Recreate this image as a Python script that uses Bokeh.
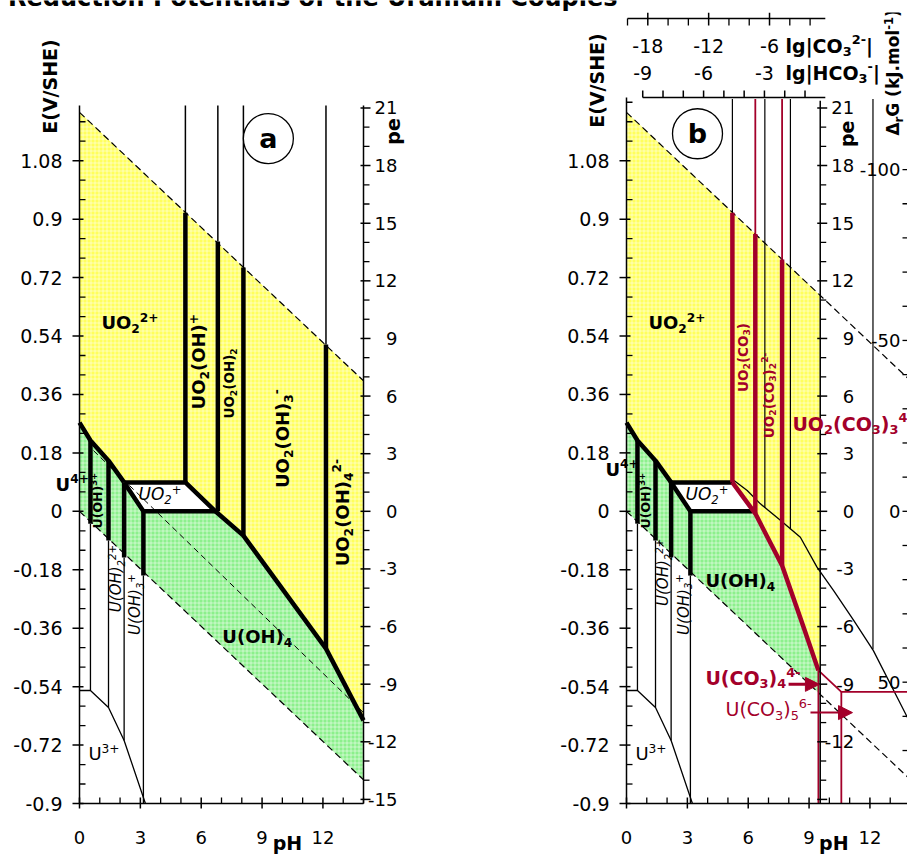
import math
from bokeh.plotting import figure
from bokeh.models import Range1d, Label, Arrow, NormalHead
from bokeh.layouts import column, row
from bokeh.embed import file_html
from bokeh.resources import INLINE
from bokeh.core.properties import value

# ---------------- values ----------------
TITLE = "Reduction Potentials of the Uranium Couples"

PH_MAJOR = [0, 3, 6, 9, 12]
PH_MINOR = [1, 2, 4, 5, 7, 8, 10, 11, 13, 14]
E_MAJOR = [-0.9, -0.72, -0.54, -0.36, -0.18, 0, 0.18, 0.36, 0.54, 0.72, 0.9, 1.08]
E_MAJOR_LABELS = ["-0.9", "-0.72", "-0.54", "-0.36", "-0.18", "0", "0.18", "0.36",
                  "0.54", "0.72", "0.9", "1.08"]
E_MINOR = [-0.84, -0.78, -0.66, -0.6, -0.48, -0.42, -0.3, -0.24, -0.12, -0.06, 0.06, 0.12,
           0.24, 0.3, 0.42, 0.48, 0.6, 0.66, 0.78, 0.84, 0.96, 1.02, 1.14, 1.2, 1.26]
PE_MAJOR = [-15, -12, -9, -6, -3, 0, 3, 6, 9, 12, 15, 18, 21]
PE_MINOR = [-14, -13, -11, -10, -8, -7, -5, -4, -2, -1, 1, 2, 4, 5, 7, 8, 10, 11, 13, 14,
            16, 17, 19, 20]
DG_MAJOR = [-100, -50, 0, 50]
DG_MINOR = [-90, -80, -70, -60, -40, -30, -20, -10, 10, 20, 30, 40, 60, 70]
HCO3_MAJOR = [-9, -6, -3]
HCO3_MINOR = [-8, -7, -5, -4, -2, -1]
CO3_MAJOR = [-18, -12, -6]
CO3_MINOR = [-20, -16, -14, -10, -8, -4, -2]

# water stability lines
PH_WATER = [0.0, 14.0]
E_WATER_O2 = [1.229, 0.402]
E_WATER_H2 = [0.0, -0.827]
PH_REF_A = [0.69, 14.0]
E_REF_A = [0.187, -0.620]

# U(VI)/U(IV) boundary in acid, U(IV) hydrolysis, U(III)
PH_U4_BOUND = [0.0, 0.54, 1.43, 2.2]
E_U4_BOUND = [0.273, 0.218, 0.156, 0.089]
PH_UIV_HYD = [0.54, 1.43, 2.2, 3.15]
E_UIV_HYD_TOP = [0.218, 0.156, 0.089, 0.0]
E_UIV_HYD_WATER = [-0.038, -0.090, -0.142, -0.198]
E_UIV_HYD_LOW = [-0.552, -0.604, -0.706, -0.9]
PH_U3_BOUND = [0.0, 0.54, 1.43, 2.2, 3.25]
E_U3_BOUND = [-0.552, -0.552, -0.604, -0.706, -0.9]

# UO2+ domain (top-left, top-right, bottom-right, bottom-left)
PH_BOX = [2.2, 5.22, 6.7, 3.15]
E_BOX = [0.089, 0.089, 0.0, 0.0]
PH_BOX_B_END = 6.2

# U(VI) hydrolysis boundaries
PH_UVI_HYD = [5.22, 6.82, 8.08, 12.15]
E_UVI_HYD_TOP = [0.920, 0.831, 0.751, 0.514]
E_UVI_HYD_LOW_A = [0.089, 0.0, -0.075, -0.423]
E_UVI_HYD_LOW_B = [0.920, 0.012, -0.055, -0.425]
PH_UIV_UVI_A = [6.7, 8.08, 12.15, 14.0]
E_UIV_UVI_A = [0.0, -0.075, -0.423, -0.644]
PH_CURVE_B = [5.3, 5.95, 6.6, 7.6, 8.57, 9.39, 10.21, 11.2, 12.17, 13.85]
E_CURVE_B = [0.095, 0.064, 0.023, -0.028, -0.080, -0.172, -0.244, -0.336, -0.429, -0.635]

# carbonate boundaries (panel b)
PH_CARB = [5.22, 6.35, 7.67]
E_CARB_TOP = [0.920, 0.854, 0.776]
E_CARB_LOW = [0.089, -0.007, -0.167]
PH_CARB_BOUND = [5.22, 6.35, 7.67, 8.73, 9.46]
E_CARB_BOUND = [0.089, -0.007, -0.167, -0.357, -0.49]
PH_UC_LINE = [9.46, 10.59, 13.85]
E_UC_LINE = [-0.49, -0.556, -0.556]
PH_UC_VERT = [9.46, 10.59]
E_UC_VERT_TOP = [-0.49, -0.556]
PH_LIMIT_B = 9.55
E_LIMIT_O2_B = 0.665
E_LIMIT_H2_B = -0.564

E_TOP_A = 1.25
E_TOP_B = 1.27

# ---------------- style ----------------
FONT = "DejaVu Sans"
RED = "#a3002a"
YELLOW = "#ffff5c"
GREEN = "#8cf08c"
PPX = 20.286    # px per pH unit
PPV = 324.65    # px per volt
PE_K = 0.05916
DG_K = 95.0
THICK = 4.5
THIN = 1.3
Y_TOP = -0.9 + 791 / PPV
Y_BOT = -0.9 - 52 / PPV

W_REG = {' ': 318, '(': 390, ')': 390, '+': 838, '-': 361, '.': 318, '/': 337, 'C': 698,
         'E': 632, 'G': 775, 'H': 752, 'J': 295, 'O': 787, 'S': 635, 'U': 732, 'V': 684,
         'a': 613, 'b': 635, 'e': 615, 'g': 635, 'h': 634, 'k': 579, 'l': 278, 'm': 974,
         'o': 612, 'p': 635, 'r': 411, '|': 337, 'Δ': 684}
W_BOLD = {' ': 348, '(': 457, ')': 457, '+': 838, '-': 415, '.': 380, '/': 365, 'C': 733,
          'E': 683, 'G': 822, 'H': 837, 'J': 372, 'O': 850, 'S': 720, 'U': 812, 'V': 774,
          'a': 675, 'b': 716, 'e': 678, 'g': 716, 'h': 712, 'k': 665, 'l': 343, 'm': 1042,
          'o': 687, 'p': 716, 'r': 493, '|': 365, 'Δ': 774}


def parse(markup):
    segs, buf, i = [], "", 0
    while i < len(markup):
        c = markup[i]
        if c in "_^" and i + 1 < len(markup) and markup[i + 1] == "{":
            if buf:
                segs.append((buf, "n"))
                buf = ""
            j = markup.index("}", i)
            segs.append((markup[i + 2:j], "sub" if c == "_" else "sup"))
            i = j + 1
        else:
            buf += c
            i += 1
    if buf:
        segs.append((buf, "n"))
    return segs


def tw(txt, bold):
    tab = W_BOLD if bold else W_REG
    return sum(tab.get(ch, 696 if bold else 636) for ch in txt) / 1000.0


def rich(p, x, y, markup, size, bold=True, italic=False, color="black", angle=0.0,
         align="center", vshift=0.0):
    """Text with sub/superscripts; (x, y) is the visual centre of the main text."""
    style = (("bold " if bold else "") + ("italic" if italic else "")).strip() or "normal"
    items, u = [], 0.0
    for txt, kind in parse(markup):
        s = size if kind == "n" else size * 0.68
        v = {"n": 0.0, "sub": -0.315 * size, "sup": 0.305 * size}[kind]
        items.append((txt, u, v, s))
        u += tw(txt, bold) * s
    u0 = {"left": 0.0, "center": -u / 2.0, "right": -u}[align]
    ca, sa = math.cos(angle), math.sin(angle)
    for txt, uu, vv, s in items:
        a = u0 + uu
        b = vv + vshift * size
        p.add_layout(Label(x=x, y=y, x_offset=a * ca - b * sa, y_offset=a * sa + b * ca,
                           text=txt, angle=angle, text_font=FONT,
                           text_font_size=f"{s:.1f}px", text_font_style=style,
                           text_color=color, text_align="left",
                           text_baseline="middle"))


def plain(p, x, y, txt, size=18, align="center", baseline="middle", bold=False):
    p.add_layout(Label(x=x, y=y, text=txt, text_font=FONT, text_font_size=f"{size}px",
                       text_font_style="bold" if bold else "normal", text_color="black",
                       text_align=align, text_baseline=baseline))


def make_fig(width, x_start, x_end):
    p = figure(width=width, height=843, x_range=Range1d(x_start, x_end),
               y_range=Range1d(Y_BOT, Y_TOP), output_backend="svg", toolbar_location=None,
               x_axis_type=None, y_axis_type=None, min_border=0,
               background_fill_color="white", border_fill_color="white",
               outline_line_color=None)
    p.xgrid.visible = False
    p.ygrid.visible = False
    return p


def seg(p, x0, y0, x1, y1, color="black", width=1.5):
    p.segment(x0=x0, y0=y0, x1=x1, y1=y1, line_color=color, line_width=width)


def e_axis(p, e_top):
    seg(p, [0], [-0.9], [0], [e_top])
    n = len(E_MAJOR)
    seg(p, [-7 / PPX] * n, E_MAJOR, [4 / PPX] * n, E_MAJOR)
    mn = [v for v in E_MINOR if v <= e_top]
    seg(p, [0] * len(mn), mn, [6 / PPX] * len(mn), mn, width=1.3)
    for v, lab in zip(E_MAJOR, E_MAJOR_LABELS):
        plain(p, -17 / PPX, v, lab, size=19, align="right")


def ph_axis(p, ph_end):
    seg(p, [0], [-0.9], [ph_end], [-0.9])
    n = len(PH_MAJOR)
    seg(p, PH_MAJOR, [-0.9 - 5 / PPV] * n, PH_MAJOR, [-0.9 + 6 / PPV] * n)
    mn = [v for v in PH_MINOR if v <= ph_end]
    seg(p, mn, [-0.9] * len(mn), mn, [-0.9 + 6 / PPV] * len(mn), width=1.3)
    for v in PH_MAJOR:
        plain(p, v, -0.9 - 34 / PPV, str(v), size=18)


def pe_axis(p, ph0, e_top, skip=()):
    seg(p, [ph0], [-0.9], [ph0], [e_top])
    ym = [v * PE_K for v in PE_MAJOR]
    seg(p, [ph0 - 3 / PPX] * len(ym), ym, [ph0 + 7 / PPX] * len(ym), ym)
    yn = [v * PE_K for v in PE_MINOR]
    seg(p, [ph0] * len(yn), yn, [ph0 + 6 / PPX] * len(yn), yn, width=1.3)
    for v in PE_MAJOR:
        if v in skip:
            continue
        plain(p, ph0 + 34 / PPX, v * PE_K, str(v), size=18, align="right")


def draw_uiv_side(p):
    seg(p, PH_UIV_HYD, E_UIV_HYD_WATER, PH_UIV_HYD, E_UIV_HYD_LOW, width=THIN)
    p.line(PH_U3_BOUND, E_U3_BOUND, line_color="black", line_width=THIN)
    seg(p, PH_UIV_HYD, E_UIV_HYD_TOP, PH_UIV_HYD, E_UIV_HYD_WATER, width=THICK)
    p.line(PH_U4_BOUND, E_U4_BOUND, line_color="black", line_width=THICK, line_join="round")


def water(p):
    p.line(PH_WATER, E_WATER_O2, line_color="black", line_width=1.2, line_dash="7 4")
    p.line(PH_WATER, E_WATER_H2, line_color="black", line_width=1.2, line_dash="7 4")


fill_kw = dict(line_color=None, hatch_pattern="+", hatch_color="white", hatch_alpha=0.5,
               hatch_scale=4, hatch_weight=1)

# ---------------- title strip ----------------
t = figure(width=907, height=12, x_range=Range1d(0, 907), y_range=Range1d(0, 12),
           x_axis_type=None, y_axis_type=None, min_border=0, toolbar_location=None,
           output_backend="svg", outline_line_color=None, background_fill_color="white",
           border_fill_color="white")
t.grid.visible = False
t.text(x=[617], y=[15], text=[TITLE], text_align="right", text_baseline="alphabetic",
       text_font=value(FONT), text_font_size="24px", text_font_style="bold",
       text_color="black")

# ---------------- panel a ----------------
pa = make_fig(453, -79 / PPX, 374 / PPX)

ya_x = PH_WATER + PH_UIV_UVI_A[::-1] + [PH_BOX[1]] + PH_U4_BOUND[::-1]
ya_y = E_WATER_O2 + E_UIV_UVI_A[::-1] + [E_BOX[1]] + E_U4_BOUND[::-1]
pa.patch(ya_x, ya_y, fill_color=YELLOW, **fill_kw)
ga_x = PH_U4_BOUND + [PH_BOX[3]] + PH_UIV_UVI_A + PH_WATER[::-1]
ga_y = E_U4_BOUND + [E_BOX[3]] + E_UIV_UVI_A + E_WATER_H2[::-1]
pa.patch(ga_x, ga_y, fill_color=GREEN, **fill_kw)

water(pa)
pa.line(PH_REF_A, E_REF_A, line_color="black", line_width=1.0, line_dash="6 4")
seg(pa, PH_UVI_HYD, [E_TOP_A] * 4, PH_UVI_HYD, E_UVI_HYD_TOP)
draw_uiv_side(pa)
seg(pa, PH_UVI_HYD, E_UVI_HYD_TOP, PH_UVI_HYD, E_UVI_HYD_LOW_A, width=THICK)
pa.line(PH_BOX + [PH_BOX[0]], E_BOX + [E_BOX[0]], line_color="black", line_width=THICK,
        line_join="round")
pa.line(PH_UIV_UVI_A, E_UIV_UVI_A, line_color="black", line_width=THICK, line_join="round")
e_axis(pa, E_TOP_A)
ph_axis(pa, 14.0)
pe_axis(pa, 14.0, E_TOP_A)

pa.scatter([9.31], [1.148], size=50, marker="circle", fill_color="white",
           line_color="black", line_width=1.3)
plain(pa, 9.31, 1.148, "a", size=27, bold=True)

labels_a = [
    ("UO_{2}^{2+}", 1.08, 0.581, 18, True, False, 0, "left"),
    ("UO_{2}(OH)^{+}", 5.89, 0.461, 18, True, False, 90, "center"),
    ("UO_{2}(OH)_{2}", 7.39, 0.394, 13.5, True, False, 90, "center"),
    ("UO_{2}(OH)_{3}^{-}", 10.0, 0.224, 18, True, False, 90, "center"),
    ("UO_{2}(OH)_{4}^{2-}", 12.96, -0.004, 18, True, False, 90, "center"),
    ("U(OH)_{4}", 7.04, -0.386, 18, True, False, 0, "left"),
    ("U^{4+}", -1.18, 0.083, 18, True, False, 0, "left"),
    ("UO_{2}^{+}", 2.91, 0.052, 17, False, True, 0, "left"),
    ("U(OH)^{3+}", 0.89, 0.033, 12.5, True, False, 90, "center"),
    ("U(OH)_{2}^{2+}", 1.82, -0.207, 15, False, True, 90, "center"),
    ("U(OH)_{3}^{+}", 2.76, -0.287, 15, False, True, 90, "center"),
    ("U^{3+}", 0.44, -0.746, 18, False, False, 0, "left"),
    ("E(V/SHE)", -1.43, 1.3085, 19, True, False, 90, "center"),
    ("pH", 10.25, -0.9 - 39 / PPV, 19, True, False, 0, "center"),
]
for m, x, y, s, b, it, ang, al in labels_a:
    rich(pa, x, y, m, s, bold=b, italic=it, angle=math.radians(ang), align=al)
rich(pa, 15.53, 1.170, "pe", 19, bold=True, angle=math.pi / 2, align="center", vshift=0.073)

# ---------------- panel b ----------------
XB_END = 281 / PPX
pb = make_fig(454, -173 / PPX, XB_END)

yb_x = [PH_WATER[0], PH_LIMIT_B, PH_LIMIT_B] + PH_CARB_BOUND[::-1] + PH_U4_BOUND[::-1]
yb_y = [E_WATER_O2[0], E_LIMIT_O2_B, E_CARB_BOUND[-1]] + E_CARB_BOUND[::-1] + E_U4_BOUND[::-1]
pb.patch(yb_x, yb_y, fill_color=YELLOW, **fill_kw)
gb_x = PH_U4_BOUND + [PH_BOX[3], PH_BOX_B_END] + PH_CARB_BOUND[1:] + \
    [PH_LIMIT_B, PH_LIMIT_B, PH_WATER[0]]
gb_y = E_U4_BOUND + [E_BOX[3], E_BOX[3]] + E_CARB_BOUND[1:] + \
    [E_CARB_BOUND[-1], E_LIMIT_H2_B, E_WATER_H2[0]]
pb.patch(gb_x, gb_y, fill_color=GREEN, **fill_kw)

water(pb)
seg(pb, PH_UVI_HYD, [E_TOP_B] * 4, PH_UVI_HYD, E_UVI_HYD_LOW_B, width=1.2)
pb.line(PH_CURVE_B, E_CURVE_B, line_color="black", line_width=1.3)
draw_uiv_side(pb)
pb.line([PH_BOX[1], PH_BOX[0], PH_BOX[3], PH_BOX_B_END], [E_BOX[1], E_BOX[0], E_BOX[3], E_BOX[3]],
        line_color="black", line_width=THICK, line_join="round")
seg(pb, PH_CARB[1:], [E_TOP_B] * 2, PH_CARB[1:], E_CARB_TOP[1:], color=RED, width=1.8)
seg(pb, PH_CARB, E_CARB_TOP, PH_CARB, E_CARB_LOW, color=RED, width=THICK)
pb.line(PH_CARB_BOUND, E_CARB_BOUND, line_color=RED, line_width=THICK, line_join="round")
pb.line(PH_UC_LINE, E_UC_LINE, line_color=RED, line_width=1.8)
seg(pb, PH_UC_VERT, E_UC_VERT_TOP, PH_UC_VERT, [-0.9, -0.9], color=RED, width=1.8)

e_axis(pb, 1.2747)
ph_axis(pb, XB_END)
pe_axis(pb, PH_LIMIT_B, 1.265, skip=(-15,))

# delta_r G axis (right edge)
ydg = [-v / DG_K for v in DG_MAJOR + DG_MINOR]
seg(pb, [XB_END - 5 / PPX] * len(ydg), ydg, [XB_END] * len(ydg), ydg, width=1.3)
for v in DG_MAJOR:
    plain(pb, XB_END - 7 / PPX, -v / DG_K, str(v), size=18, align="right")

# carbonate concentration axes (top)
E_HCO3_AX = 1.2747
E_CO3_AX = 1.518
HCO3_OFF = 9.8
CO3_OFF = 20.1
seg(pb, [-9 + HCO3_OFF], [E_HCO3_AX], [0 + HCO3_OFF], [E_HCO3_AX])
hx = [v + HCO3_OFF for v in HCO3_MAJOR + HCO3_MINOR]
seg(pb, hx, [E_HCO3_AX] * len(hx), hx, [E_HCO3_AX + 7 / PPV] * len(hx))
for v in HCO3_MAJOR:
    plain(pb, v + HCO3_OFF, 1.3516, str(v), size=19)
seg(pb, [(-20 + CO3_OFF) / 2], [E_CO3_AX], [(-0.5 + CO3_OFF) / 2], [E_CO3_AX])
cxm = [(v + CO3_OFF) / 2 for v in CO3_MAJOR]
seg(pb, cxm, [E_CO3_AX - 7 / PPV] * 3, cxm, [E_CO3_AX + 6 / PPV] * 3)
cxn = [(v + CO3_OFF) / 2 for v in CO3_MINOR]
seg(pb, cxn, [E_CO3_AX - 7 / PPV] * len(cxn), cxn, [E_CO3_AX] * len(cxn), width=1.3)
for v in CO3_MAJOR:
    plain(pb, (v + CO3_OFF) / 2, 1.4348, str(v), size=19)

pb.scatter([3.5], [1.163], size=50, marker="circle", fill_color="white", line_color="black",
           line_width=1.3)
plain(pb, 3.5, 1.163, "b", size=27, bold=True)

pb.add_layout(Arrow(end=NormalHead(size=14, fill_color=RED, line_color=RED),
                    x_start=7.99, y_start=-0.533, x_end=9.51, y_end=-0.533,
                    line_color=RED, line_width=3))
pb.add_layout(Arrow(end=NormalHead(size=14, fill_color=RED, line_color=RED),
                    x_start=9.07, y_start=-0.620, x_end=11.14, y_end=-0.620,
                    line_color=RED, line_width=2))

labels_b = [
    ("UO_{2}^{2+}", 1.08, 0.581, 18, True, False, "black", 0, "left"),
    ("U^{4+}", -1.04, 0.129, 18, True, False, "black", 0, "left"),
    ("UO_{2}^{+}", 2.91, 0.052, 17, False, True, "black", 0, "left"),
    ("U(OH)^{3+}", 0.94, 0.033, 12.5, True, False, "black", 90, "center"),
    ("U(OH)_{2}^{2+}", 1.82, -0.188, 15, False, True, "black", 90, "center"),
    ("U(OH)_{3}^{+}", 2.81, -0.287, 15, False, True, "black", 90, "center"),
    ("U(OH)_{4}", 3.89, -0.213, 18, True, False, "black", 0, "left"),
    ("U^{3+}", 0.44, -0.746, 18, False, False, "black", 0, "left"),
    ("UO_{2}(CO_{3})", 5.72, 0.474, 13.5, True, False, RED, 90, "center"),
    ("UO_{2}(CO_{3})_{2}^{2-}", 7.0, 0.357, 13.5, True, False, RED, 90, "center"),
    ("UO_{2}(CO_{3})_{3}^{4-}", 8.18, 0.270, 19, True, False, RED, 0, "left"),
    ("U(CO_{3})_{4}^{4-}", 3.89, -0.513, 19, True, False, RED, 0, "left"),
    ("U(CO_{3})_{5}^{6-}", 4.88, -0.610, 19, False, False, RED, 0, "left"),
    ("E(V/SHE)", -1.43, 1.327, 19, True, False, "black", 90, "center"),
    ("pH", 10.22, -0.9 - 39 / PPV, 19, True, False, "black", 0, "center"),
    ("Δ_{r}G (kJ.mol^{-1})", 13.16, 1.352, 17, True, False, "black", 90, "center"),
    ("lg|CO_{3}^{2-}|", 7.84, 1.4348, 19, True, False, "black", 0, "left"),
    ("lg|HCO_{3}^{-}|", 7.84, 1.3516, 19, True, False, "black", 0, "left"),
]
for m, x, y, s, b, it, col, ang, al in labels_b:
    rich(pb, x, y, m, s, bold=b, italic=it, color=col, angle=math.radians(ang), align=al)
rich(pb, 10.94, 1.163, "pe", 19, bold=True, angle=math.pi / 2, align="center", vshift=0.073)

layout = column(t, row(pa, pb, spacing=0), spacing=0)
open("out.html", "w").write(file_html(layout, INLINE))
